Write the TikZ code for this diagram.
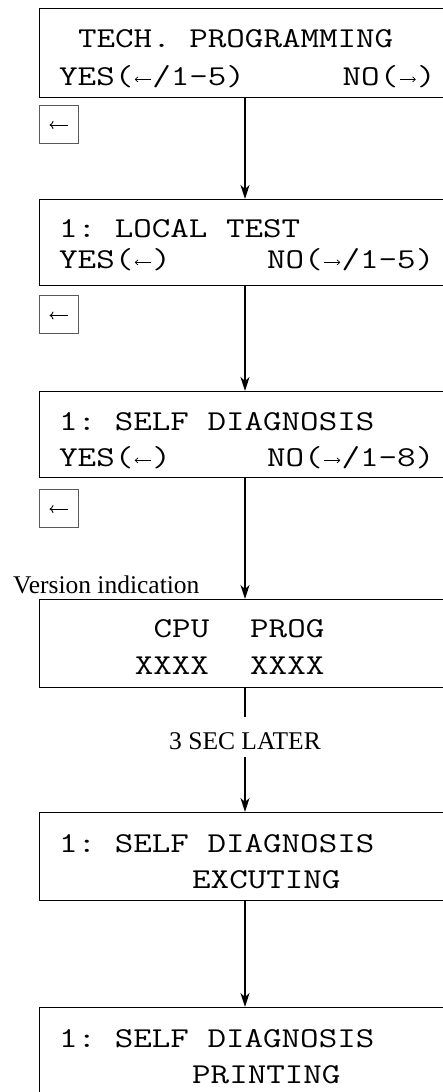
\documentclass[tikz,border=0pt]{standalone}
\usepackage{fontspec}
\usepackage{graphicx}
\newfontfamily\serifT{Liberation Serif}
\usetikzlibrary{arrows.meta,calc}
\frenchspacing
\newcommand\lcdtext[1]{\scalebox{1}[0.8]{\fontsize{36}{36}\selectfont\ttfamily #1}}
\newcommand\la{\makebox[18.9pt]{\tikz[baseline=0pt]\draw[line width=0.8pt,{To[length=3.5pt,width=7pt]}-] (0pt,7pt) -- (16pt,7pt);}}
\newcommand\ra{\makebox[18.9pt]{\tikz[baseline=0pt]\draw[line width=0.8pt,-{To[length=3.5pt,width=7pt]}] (0pt,7pt) -- (16pt,7pt);}}
\tikzset{
  lcdbox/.style={draw, line width=1.4pt, rectangle, anchor=north west, minimum width=430, inner sep=0},
  keybox/.style={draw=black!65, line width=1pt, rectangle, minimum width=39, minimum height=38, inner sep=0},
  keyarrow/.style={line width=0.9pt, -{To[length=4pt,width=8pt]}},
  lcd/.style={anchor=base west, inner sep=0},
  lbl/.style={inner sep=0, font=\serifT\fontsize{25.5}{26}\selectfont},
  flowline/.style={line width=1.4pt},
  flow/.style={line width=1.4pt, -{Stealth[length=14pt,width=9pt,inset=4pt]}}
}
\begin{document}
\begin{tikzpicture}[x=1pt,y=-1pt]
\useasboundingbox (0,0) rectangle (443,1092);
\clip (0,0) rectangle (443,1092);
\coordinate (m) at (245,0);
% boxes
\node[lcdbox, minimum height=88.5] (b1) at (39,8) {};
\node[lcdbox, minimum height=86] (b2) at (39,199) {};
\node[lcdbox, minimum height=86] (b3) at (39,391) {};
\node[lcdbox, minimum height=88] (b4) at (39,599) {};
\node[lcdbox, minimum height=88] (b5) at (39,812) {};
\node[lcdbox, minimum height=110] (b6) at (39,1007) {};
% key boxes
\node[keybox] (k1) at (58.5,124) {};
\node[keybox] (k2) at (58.5,314.5) {};
\node[keybox] (k3) at (58.5,508) {};
\foreach \k in {k1,k2,k3}
  \draw[keyarrow] ($(\k.center)+(9,1)$) -- ($(\k.center)+(-9,1)$);
% box 1 text
\node[lcd] (t1a) at (77.9,47) {\lcdtext{TECH. PROGRAMMING}};
\node[lcd] (t1b) at (59,85) {\lcdtext{YES(\la/1-5)}};
\node[lcd] (t1c) at (342.5,85) {\lcdtext{NO(\ra)}};
% box 2 text
\node[lcd] (t2a) at (59,237) {\lcdtext{1: LOCAL TEST}};
\node[lcd] (t2b) at (59,268) {\lcdtext{YES(\la)}};
\node[lcd] (t2c) at (266.9,268) {\lcdtext{NO(\ra/1-5)}};
% box 3 text
\node[lcd] (t3a) at (59,430) {\lcdtext{1: SELF DIAGNOSIS}};
\node[lcd] (t3b) at (59,466) {\lcdtext{YES(\la)}};
\node[lcd] (t3c) at (266.9,466) {\lcdtext{NO(\ra/1-8)}};
% box 4 text
\node[lcd] (t4a) at (153.5,637) {\lcdtext{CPU}};
\node[lcd] (t4b) at (250,637) {\lcdtext{PROG}};
\node[lcd] (t4c) at (134.6,674) {\lcdtext{XXXX}};
\node[lcd] (t4d) at (250,674) {\lcdtext{XXXX}};
% box 5 text
\node[lcd] (t5a) at (59,852) {\lcdtext{1: SELF DIAGNOSIS}};
\node[lcd] (t5b) at (192,888) {\lcdtext{EXCUTING}};
% box 6 text
\node[lcd] (t6a) at (59,1047) {\lcdtext{1: SELF DIAGNOSIS}};
\node[lcd] (t6b) at (192,1083) {\lcdtext{PRINTING}};
% labels
\node[lbl, anchor=base west] (ver) at (13,593) {Version indication};
\node[lbl, anchor=base] (later) at (245,749) {3 SEC LATER};
\coordinate (g1) at (245,717);
\coordinate (g2) at (245,757);
% connectors
\draw[flow] (b1.south -| m) -- (b2.north -| m);
\draw[flow] (b2.south -| m) -- (b3.north -| m);
\draw[flow] (b3.south -| m) -- (b4.north -| m);
\draw[flowline] (b4.south -| m) -- (g1);
\draw[flow] (g2) -- (b5.north -| m);
\draw[flow] (b5.south -| m) -- (b6.north -| m);
\end{tikzpicture}
\end{document}
